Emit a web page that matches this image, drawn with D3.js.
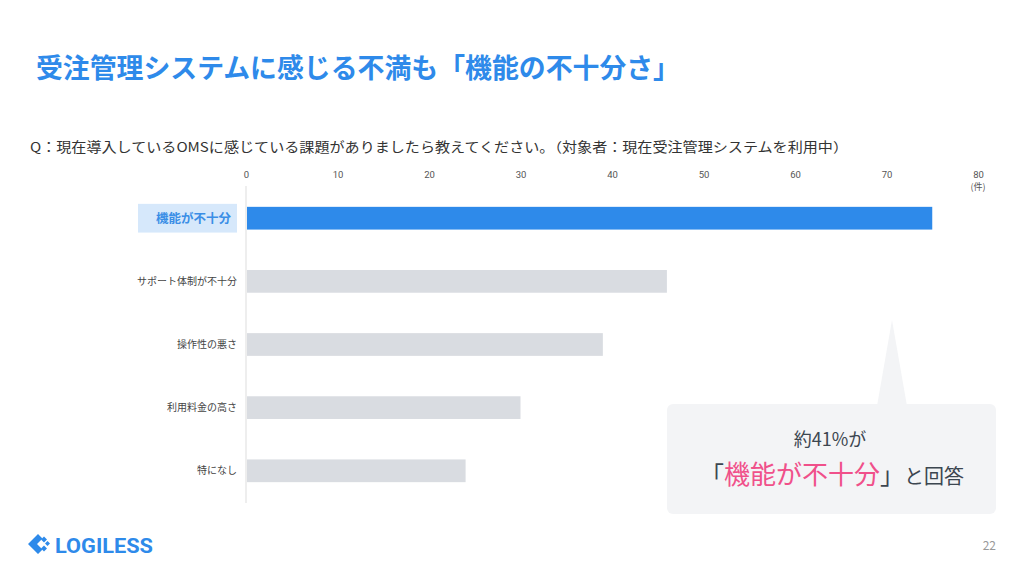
<!DOCTYPE html>
<html><head><meta charset="utf-8">
<script src="https://cdn.jsdelivr.net/npm/d3@7"></script>
<style>
body{margin:0;background:#fff;}
svg{display:block;font-family:"Noto Sans CJK JP","Noto Sans",sans-serif;}
</style></head>
<body><svg id="c" width="1024" height="576"></svg>
<script>
const categories = ["機能が不十分","サポート体制が不十分","操作性の悪さ","利用料金の高さ","特になし"];
const values = [75, 46, 39, 30, 24];
const ticks = [0,10,20,30,40,50,60,70,80];
const unitLabel = "(件)";
const title = "受注管理システムに感じる不満も「機能の不十分さ」";
const question = "Q：現在導入しているOMSに感じている課題がありましたら教えてください。（対象者：現在受注管理システムを利用中）";

const svg = d3.select("#c");
const blue = "#2E8AEA";

svg.append("text").attr("x",36).attr("y",78).attr("font-size",27).attr("font-weight",700)
  .attr("fill",blue).attr("textLength",644).attr("lengthAdjust","spacingAndGlyphs").text(title);
svg.append("text").attr("x",30).attr("y",152).attr("font-size",13.5).attr("fill","#333")
  .attr("textLength",818).attr("lengthAdjust","spacingAndGlyphs").text(question);

const x = d3.scaleLinear().domain([0,80]).range([246,978]);
const y = d3.scaleBand().domain(categories).range([186,503]).paddingInner(0.64).paddingOuter(0.33);

// axis line
svg.append("line").attr("x1",x(0)).attr("x2",x(0)).attr("y1",186).attr("y2",503)
  .attr("stroke","#e8e8e8").attr("stroke-width",1.5);

const axis = d3.axisTop(x).tickValues(ticks).tickSize(0).tickPadding(0);
const ag = svg.append("g").attr("transform","translate(0,178)").call(axis);
ag.select(".domain").remove();
ag.selectAll("text").attr("font-size",9.5).attr("fill","#555").attr("font-family","'Liberation Sans Narrow','Roboto',sans-serif");
svg.append("text").attr("x",x(80)).attr("y",190).attr("text-anchor","middle").attr("font-size",9)
  .attr("fill","#555").text(unitLabel);

svg.selectAll("rect.bar").data(values).join("rect").attr("class","bar")
  .attr("x",x(0)+1).attr("y",(d,i)=>y(categories[i]))
  .attr("width",d=>x(d)-x(0)-1).attr("height",y.bandwidth())
  .attr("fill",(d,i)=>i===0?blue:"#D9DCE1");

// highlight label box
svg.append("rect").attr("x",138).attr("y",y(categories[0])-3).attr("width",99).attr("height",y.bandwidth()+6)
  .attr("fill","#D6E8FB");
svg.selectAll("text.cat").data(categories).join("text").attr("class","cat")
  .attr("x",(d,i)=>i===0?231:237).attr("y",d=>y(d)+y.bandwidth()/2)
  .attr("dy","0.35em").attr("text-anchor","end")
  .attr("font-size",(d,i)=>i===0?12.5:10)
  .attr("font-weight",(d,i)=>i===0?700:400)
  .attr("fill",(d,i)=>i===0?"#3A8EE6":"#444").text(d=>d);

// callout
svg.append("path").attr("d","M877,406 L892,320 L907,406 Z").attr("fill","#F3F4F6");
svg.append("rect").attr("x",667).attr("y",404).attr("width",329).attr("height",110).attr("rx",6)
  .attr("fill","#F3F4F6");
svg.append("text").attr("x",830).attr("y",446).attr("text-anchor","middle").attr("font-size",18)
  .attr("fill","#3c4650").text("約41%が");
const t2 = svg.append("text").attr("x",832).attr("y",484).attr("text-anchor","middle").attr("fill","#3c4650");
t2.append("tspan").attr("font-size",24).text("「");
t2.append("tspan").attr("font-size",26).attr("fill","#F0508A").text("機能が不十分");
t2.append("tspan").attr("font-size",24).text("」");
t2.append("tspan").attr("font-size",20).text("と回答");

// logo
const lg = svg.append("g").attr("fill",blue);
lg.append("path").attr("d","M38,534 L28,544 L38,554 L42.5,549.5 L37,544 L42.5,538.5 Z");
lg.append("path").attr("d","M44,536.5 L47,539.5 L44,542.5 L41,539.5 Z");
lg.append("path").attr("d","M44,545.5 L47,548.5 L44,551.5 L41,548.5 Z");
lg.append("path").attr("d","M47.5,541 L50,543.5 L47.5,546 L45,543.5 Z");
svg.append("text").attr("x",55).attr("y",553).attr("font-size",21).attr("font-weight",700)
  .attr("font-family","'Liberation Sans Narrow','Roboto',sans-serif").attr("fill",blue)
  .attr("textLength",98).attr("lengthAdjust","spacingAndGlyphs").text("LOGILESS");
svg.append("text").attr("x",996).attr("y",550).attr("text-anchor","end").attr("font-size",12)
  .attr("fill","#999").text("22");
</script></body></html>
